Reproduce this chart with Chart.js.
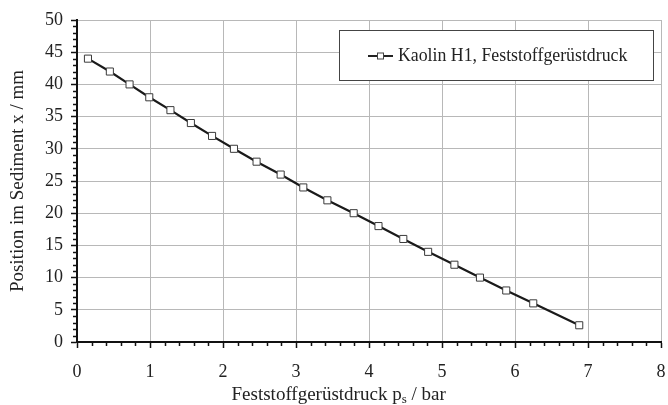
<!DOCTYPE html>
<html>
<head>
<meta charset="utf-8">
<script src="https://cdn.jsdelivr.net/npm/chart.js@4/dist/chart.umd.min.js"></script>
<style>
html,body{margin:0;padding:0;background:#fff;}
#wrap{position:relative;width:668px;height:405px;}
</style>
</head>
<body>
<div id="wrap"><canvas id="c" width="668" height="405"></canvas></div>
<script>
// ---- data ----
const seriesLabel = "Kaolin H1, Feststoffgerüstdruck";
const pressureBar = [0.15, 0.45, 0.72, 0.99, 1.28, 1.56, 1.85, 2.15, 2.46, 2.79, 3.10, 3.43, 3.79, 4.13, 4.47, 4.81, 5.17, 5.52, 5.88, 6.25, 6.88];
const positionMm  = [44, 42, 40, 38, 36, 34, 32, 30, 28, 26, 24, 22, 20, 18, 16, 14, 12, 10, 8, 6, 2.6];
const xTitleMain = "Feststoffgerüstdruck p";
const xTitleSub = "s";
const xTitleTail = " / bar";
const yTitle = "Position im Sediment x / mm";

const FONT = "'Liberation Serif', 'Times New Roman', serif";

const points = pressureBar.map((x, i) => ({x: x, y: positionMm[i]}));

const extrasPlugin = {
  id: 'extras',
  afterDraw(chart) {
    const ctx = chart.ctx;
    const a = chart.chartArea;
    const xs = chart.scales.x, ys = chart.scales.y;
    ctx.save();
    // minor ticks
    ctx.strokeStyle = '#111';
    ctx.lineWidth = 1.5;
    ctx.beginPath();
    for (let v = 0; v <= 50.001; v += 1) {
      if (Math.abs(v % 5) < 1e-6) continue;
      const py = Math.round(ys.getPixelForValue(v)) + 0.5;
      ctx.moveTo(a.left, py); ctx.lineTo(a.left - 4, py);
    }
    for (let k = 0; k <= 40; k++) {
      if (k % 5 === 0) continue;
      const px = Math.round(xs.getPixelForValue(k * 0.2)) + 0.5;
      ctx.moveTo(px, a.bottom); ctx.lineTo(px, a.bottom + 4);
    }
    ctx.stroke();

    // x title with subscript
    const TS = 19;
    ctx.fillStyle = '#222';
    ctx.textBaseline = 'alphabetic';
    ctx.font = TS + "px " + FONT;
    const w1 = ctx.measureText(xTitleMain).width;
    ctx.font = "13px " + FONT;
    const w2 = ctx.measureText(xTitleSub).width;
    ctx.font = TS + "px " + FONT;
    const w3 = ctx.measureText(xTitleTail).width;
    const total = w1 + w2 + w3;
    const cx = a.left + (a.right - a.left) * 0.448;
    let sx = cx - total / 2;
    const by = 400;
    ctx.textAlign = 'left';
    ctx.fillText(xTitleMain, sx, by);
    ctx.font = "13px " + FONT;
    ctx.fillText(xTitleSub, sx + w1, by + 3);
    ctx.font = TS + "px " + FONT;
    ctx.fillText(xTitleTail, sx + w1 + w2, by);

    // y title
    ctx.save();
    ctx.translate(23, (a.top + a.bottom) / 2);
    ctx.rotate(-Math.PI / 2);
    ctx.textAlign = 'center';
    ctx.textBaseline = 'alphabetic';
    ctx.font = TS + "px " + FONT;
    ctx.fillText(yTitle, 0, 0);
    ctx.restore();

    // legend box
    const lx = 339, ly = 30, lw = 314, lh = 50;
    ctx.fillStyle = '#fff';
    ctx.fillRect(lx, ly, lw, lh);
    ctx.strokeStyle = '#444';
    ctx.lineWidth = 1;
    ctx.strokeRect(lx + 0.5, ly + 0.5, lw, lh);
    const cyL = ly + lh / 2 + 1;
    ctx.strokeStyle = '#222';
    ctx.lineWidth = 2;
    ctx.beginPath();
    ctx.moveTo(368, cyL); ctx.lineTo(393, cyL);
    ctx.stroke();
    ctx.fillStyle = '#fff';
    ctx.fillRect(377.5, cyL - 3, 6, 6);
    ctx.strokeStyle = '#444';
    ctx.lineWidth = 1;
    ctx.strokeRect(377.5, cyL - 3, 6, 6);
    ctx.fillStyle = '#222';
    ctx.font = "17.8px " + FONT;
    ctx.textAlign = 'left';
    ctx.textBaseline = 'middle';
    ctx.fillText(chart.data.datasets[0].label, 398, cyL);
    ctx.restore();
  }
};

new Chart(document.getElementById('c'), {
  type: 'line',
  data: {
    datasets: [{
      label: seriesLabel,
      data: points,
      borderColor: '#1a1a1a',
      borderWidth: 2.2,
      pointStyle: 'rect',
      pointRadius: 5,
      pointBorderWidth: 1,
      pointBorderColor: '#3a3a3a',
      pointBackgroundColor: '#ffffff',
      tension: 0,
      fill: false
    }]
  },
  options: {
    responsive: false,
    animation: false,
    devicePixelRatio: 1,
    layout: {padding: {top: 20, right: 7, left: 0, bottom: 0}},
    plugins: {legend: {display: false}, tooltip: {enabled: false}},
    scales: {
      x: {
        type: 'linear',
        min: 0, max: 8,
        afterFit: s => { s.height = 63; s.paddingLeft = 0; s.paddingRight = 0; },
        ticks: {stepSize: 1, color: '#222', font: {family: FONT, size: 18}, padding: 13},
        grid: {color: '#b8b8b8', lineWidth: 1, tickColor: '#111', tickLength: 6, tickWidth: 1.5},
        border: {display: true, color: '#111', width: 2}
      },
      y: {
        type: 'linear',
        min: 0, max: 50,
        afterFit: s => { s.width = 77; s.paddingTop = 0; s.paddingBottom = 0; },
        ticks: {stepSize: 5, color: '#222', font: {family: FONT, size: 18}, padding: 8},
        grid: {color: '#b8b8b8', lineWidth: 1, tickColor: '#111', tickLength: 6, tickWidth: 1.5},
        border: {display: true, color: '#111', width: 2}
      }
    }
  },
  plugins: [extrasPlugin]
});
</script>
</body>
</html>
